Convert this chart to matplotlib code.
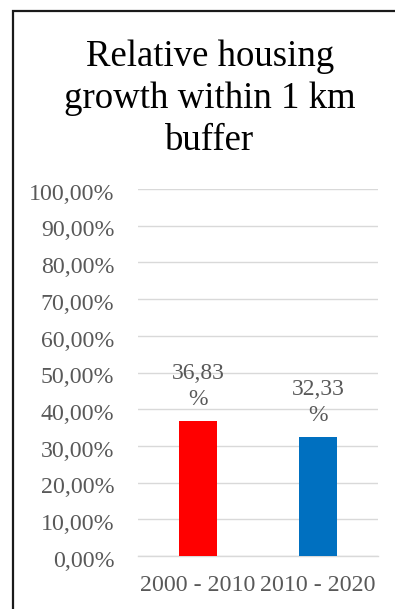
import matplotlib.pyplot as plt
from matplotlib.patches import Rectangle
from matplotlib.ticker import FuncFormatter
from matplotlib.transforms import ScaledTranslation

periods = ["2000 - 2010", "2010 - 2020"]
growth = [36.83, 32.33]
bar_colors = ["#FF0000", "#0070C0"]
title = "Relative housing\ngrowth within 1 km\nbuffer"

plt.rcParams['font.family'] = ['Liberation Serif', 'DejaVu Serif']

W, H = 395, 609
fig = plt.figure(figsize=(W / 100, H / 100), dpi=100)

# chart frame, runs off the right and bottom edges
fig.patches.append(Rectangle((13 / W, -0.05), 1.0, 1 - 11 / H + 0.05,
                             transform=fig.transFigure, fill=False,
                             edgecolor="#1a1a1a", linewidth=1.6))

ax = fig.add_axes([138 / W, 1 - 556 / H, 240 / W, (556 - 189) / H])
x = range(len(periods))
ax.bar(x, growth, width=0.32, color=bar_colors, zorder=3)
ax.set_xlim(-0.5, 1.5)
ax.set_ylim(0, 100)
ax.set_yticks(range(0, 101, 10))
ax.yaxis.set_major_formatter(FuncFormatter(lambda v, p: f"{v:.2f}%".replace(".", ",")))
ax.set_xticks(list(x))
ax.set_xticklabels(periods)
ax.grid(axis="y", color="#d9d9d9", linewidth=1.0, zorder=0)
for s in ["top", "right", "left"]:
    ax.spines[s].set_visible(False)
ax.spines["bottom"].set_color("#d9d9d9")
ax.spines["bottom"].set_linewidth(1.0)
ax.tick_params(axis="both", length=0, labelsize=17.2, colors="#595959")
ax.tick_params(axis="y", pad=17)
ax.tick_params(axis="x", pad=14)

# y labels sit a little below their gridlines
shift = ScaledTranslation(0, -2 / 72, fig.dpi_scale_trans)
for lbl in ax.get_yticklabels():
    lbl.set_transform(lbl.get_transform() + shift)

for i, v in enumerate(growth):
    ax.annotate(f"{v:.2f}".replace(".", ",") + "\n%", (i, v),
                xytext=(0, 8), textcoords="offset points",
                ha="center", va="bottom", fontsize=17, color="#595959",
                linespacing=1.3)

fig.text(210 / W, 1 - 39 / H, title, ha="center", va="top",
         fontsize=26.5, color="#000000", linespacing=1.29)

fig.savefig("out.png", dpi=100)
